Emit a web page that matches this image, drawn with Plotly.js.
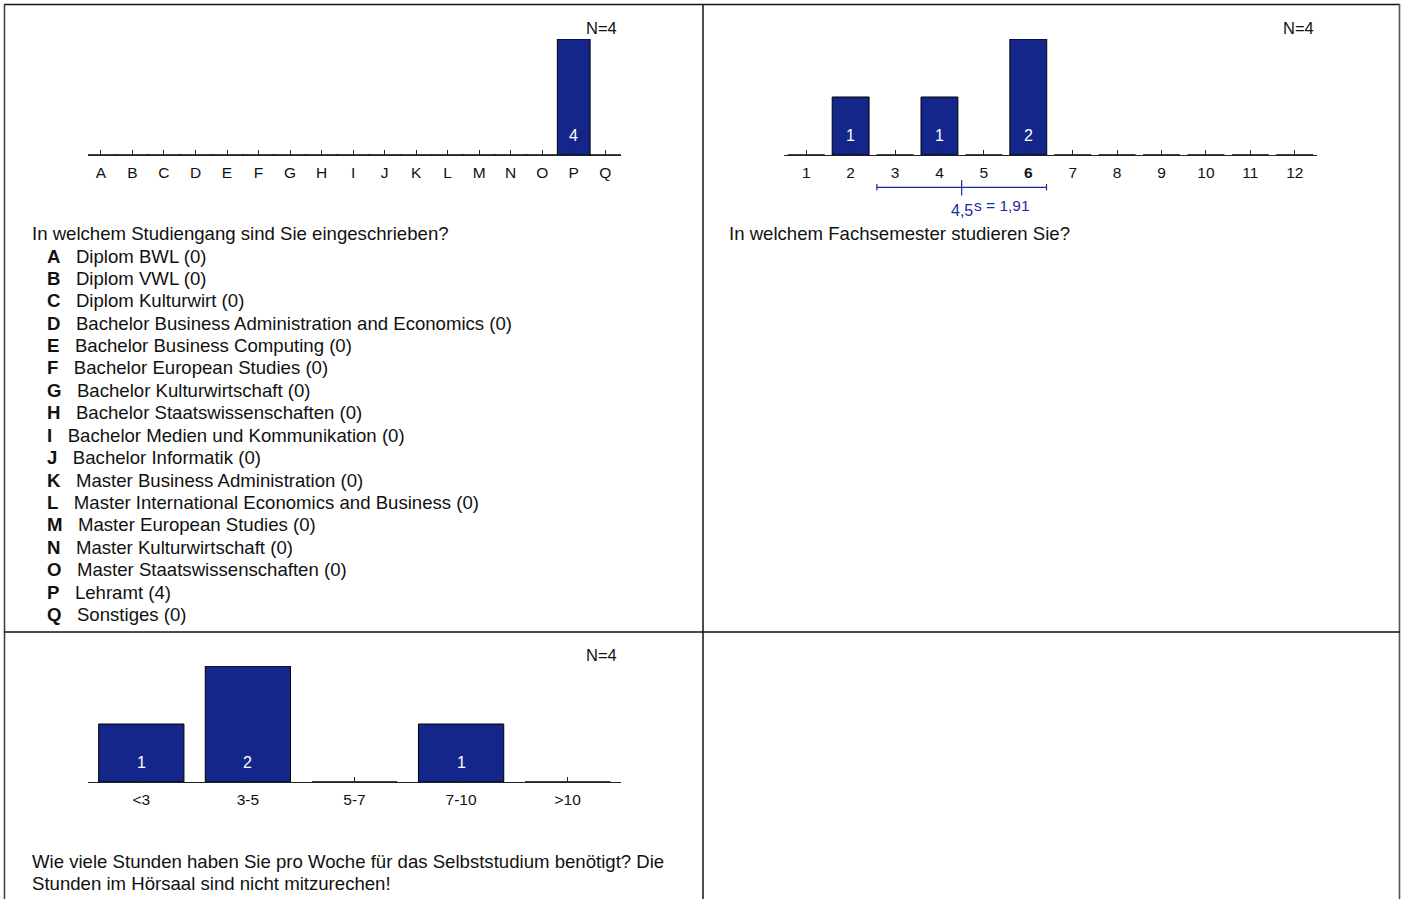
<!DOCTYPE html>
<html>
<head>
<meta charset="utf-8">
<script src="https://cdn.plot.ly/plotly-3.0.1.min.js"></script>
<style>html,body{margin:0;padding:0;background:#fff;}#chart{width:1404px;height:899px;}</style>
</head>
<body>
<div id="chart"></div>
<script>
// ---- data ----
const studyLetters = ["A","B","C","D","E","F","G","H","I","J","K","L","M","N","O","P","Q"];
const studyNames = ["Diplom BWL","Diplom VWL","Diplom Kulturwirt","Bachelor Business Administration and Economics","Bachelor Business Computing","Bachelor European Studies","Bachelor Kulturwirtschaft","Bachelor Staatswissenschaften","Bachelor Medien und Kommunikation","Bachelor Informatik","Master Business Administration","Master International Economics and Business","Master European Studies","Master Kulturwirtschaft","Master Staatswissenschaften","Lehramt","Sonstiges"];
const studyCounts = [0,0,0,0,0,0,0,0,0,0,0,0,0,0,0,4,0];
const studyQuestion = "In welchem Studiengang sind Sie eingeschrieben?";

const semesterCats = ["1","2","3","4","5","6","7","8","9","10","11","12"];
const semesterCounts = [0,1,0,1,0,2,0,0,0,0,0,0];
const semesterMedian = "6";
const semesterMean = 4.5;
const semesterSD = 1.91;
const semesterQuestion = "In welchem Fachsemester studieren Sie?";

const hoursCats = ["<3","3-5","5-7","7-10",">10"];
const hoursCounts = [1,2,0,1,0];
const hoursQuestion = ["Wie viele Stunden haben Sie pro Woche für das Selbststudium benötigt? Die","Stunden im Hörsaal sind nicht mitzurechen!"];

const nLabel = "N=4";

// ---- helpers ----
const W = 1404, H = 899;
const px = v => v / W;
const py = v => 1 - v / H;
const FONT = "Liberation Sans, Arial, sans-serif";
const BAR = "#15268a";
const TXT = 18.6;

function barTrace(xs, ys, ax, width) {
  return {
    type: "bar", x: xs, y: ys, xaxis: "x" + ax, yaxis: "y" + ax,
    width: width,
    marker: {color: BAR, line: {color: "#000", width: 1}},
    hoverinfo: "none", showlegend: false
  };
}

const traces = [
  barTrace(studyLetters.map((_, i) => i), studyCounts, "", 1.04),
  barTrace(semesterCats.map((_, i) => i + 1), semesterCounts, "2", 0.83),
  barTrace(hoursCats.map((_, i) => i), hoursCounts, "3", 0.8)
];

function xAxis(domain, range, vals, text, anchor) {
  return {
    domain: domain, range: range, anchor: anchor, tickmode: "array", tickvals: vals, ticktext: text,
    showline: true, linecolor: "#222", linewidth: 1,
    ticks: "inside", ticklen: 5, tickcolor: "#222", tickwidth: 1,
    ticklabelstandoff: 3,
    showgrid: false, zeroline: false, fixedrange: true,
    tickfont: {family: FONT, size: 15.5, color: "#111"}
  };
}
function yAxis(domain, max, anchor) {
  return {domain: domain, range: [0, max], anchor: anchor, visible: false, showgrid: false, zeroline: false, fixedrange: true};
}

const annotations = [];
function valueLabels(counts, xs, ax) {
  counts.forEach((c, i) => {
    if (c > 0) annotations.push({
      x: xs[i], y: 0, xref: "x" + ax, yref: "y" + ax, text: String(c),
      showarrow: false, yanchor: "middle", yshift: 20,
      font: {family: FONT, size: 16, color: "#fff"}
    });
  });
}
valueLabels(studyCounts, studyLetters.map((_, i) => i), "");
valueLabels(semesterCounts, semesterCats.map((_, i) => i + 1), "2");
valueLabels(hoursCounts, hoursCats.map((_, i) => i), "3");

function paperText(x, y, text, opts) {
  annotations.push(Object.assign({
    x: px(x), y: py(y), xref: "paper", yref: "paper", text: text, showarrow: false,
    xanchor: "left", yanchor: "middle", borderpad: 0,
    font: {family: FONT, size: TXT, color: "#111"}
  }, opts || {}));
}

// N labels
const nFont = {family: FONT, size: 16.5, color: "#111"};
paperText(618, 28, nLabel, {xanchor: "right", font: nFont});
paperText(1315, 28, nLabel, {xanchor: "right", font: nFont});
paperText(618, 655, nLabel, {xanchor: "right", font: nFont});

// Questions
paperText(31, 234, studyQuestion);
const NB = "\u00a0\u00a0\u00a0";
studyLetters.forEach((l, i) => {
  paperText(46, 256 + i * 22.40, "<b>" + l + "</b>" + NB + studyNames[i] + " (" + studyCounts[i] + ")");
});
paperText(728, 234, semesterQuestion);
paperText(31, 861, hoursQuestion[0]);
paperText(31, 883, hoursQuestion[1]);

// mean / sd
const BLUE = "#1a2a9a";
annotations.push({x: semesterMean, y: py(211), xref: "x2", yref: "paper", text: String(semesterMean).replace(".", ","),
  showarrow: false, xanchor: "center", yanchor: "middle", font: {family: FONT, size: 16, color: BLUE}});
annotations.push({x: semesterMean, y: py(205), xref: "x2", yref: "paper", text: "s = " + String(semesterSD).replace(".", ","),
  showarrow: false, xanchor: "left", yanchor: "middle", xshift: 10, font: {family: FONT, size: 15.5, color: BLUE}});

const shapes = [];
// borders
shapes.push({type: "line", xref: "paper", yref: "paper", x0: px(4), x1: px(1400), y0: py(4.5), y1: py(4.5), line: {color: "#111", width: 1.5}});
shapes.push({type: "line", xref: "paper", yref: "paper", x0: px(4.5), x1: px(4.5), y0: py(4), y1: py(899), line: {color: "#444", width: 1.6}});
shapes.push({type: "line", xref: "paper", yref: "paper", x0: px(703), x1: px(703), y0: py(4), y1: py(899), line: {color: "#222", width: 1.6}});
shapes.push({type: "line", xref: "paper", yref: "paper", x0: px(1399.5), x1: px(1399.5), y0: py(4), y1: py(899), line: {color: "#555", width: 1.6}});
shapes.push({type: "line", xref: "paper", yref: "paper", x0: px(4), x1: px(1400), y0: py(632), y1: py(632), line: {color: "#111", width: 1.5}});

// sd bar
const sdLine = {color: BLUE, width: 1.2};
shapes.push({type: "line", xref: "x2", yref: "paper", x0: semesterMean - semesterSD, x1: semesterMean + semesterSD, y0: py(187.3), y1: py(187.3), line: sdLine});
shapes.push({type: "line", xref: "x2", yref: "paper", x0: semesterMean - semesterSD, x1: semesterMean - semesterSD, y0: py(184), y1: py(190.5), line: sdLine});
shapes.push({type: "line", xref: "x2", yref: "paper", x0: semesterMean + semesterSD, x1: semesterMean + semesterSD, y0: py(184), y1: py(190.5), line: sdLine});
shapes.push({type: "line", xref: "x2", yref: "paper", x0: semesterMean, x1: semesterMean, y0: py(180), y1: py(195.5), line: sdLine});

const semesterText = semesterCats.map(c => c === semesterMedian ? "<b>" + c + "</b>" : c);

const layout = {
  width: W, height: H, margin: {l: 0, r: 0, t: 0, b: 0},
  paper_bgcolor: "#fff", plot_bgcolor: "rgba(0,0,0,0)",
  showlegend: false, bargap: 0,
  font: {family: FONT, color: "#111"},
  xaxis: xAxis([px(88), px(621)], [-0.41, 16.5], studyLetters.map((_, i) => i), studyLetters, "y"),
  yaxis: yAxis([py(155), py(39)], 4, "x"),
  xaxis2: xAxis([px(784), px(1317)], [0.5, 12.5], semesterCats.map((_, i) => i + 1), semesterText, "y2"),
  yaxis2: yAxis([py(155), py(39)], 2, "x2"),
  xaxis3: xAxis([px(88), px(621)], [-0.5, 4.5], hoursCats.map((_, i) => i), hoursCats, "y3"),
  yaxis3: yAxis([py(782), py(666)], 2, "x3"),
  annotations: annotations,
  shapes: shapes
};

Plotly.newPlot("chart", traces, layout, {staticPlot: true, displayModeBar: false});
</script>
</body>
</html>
